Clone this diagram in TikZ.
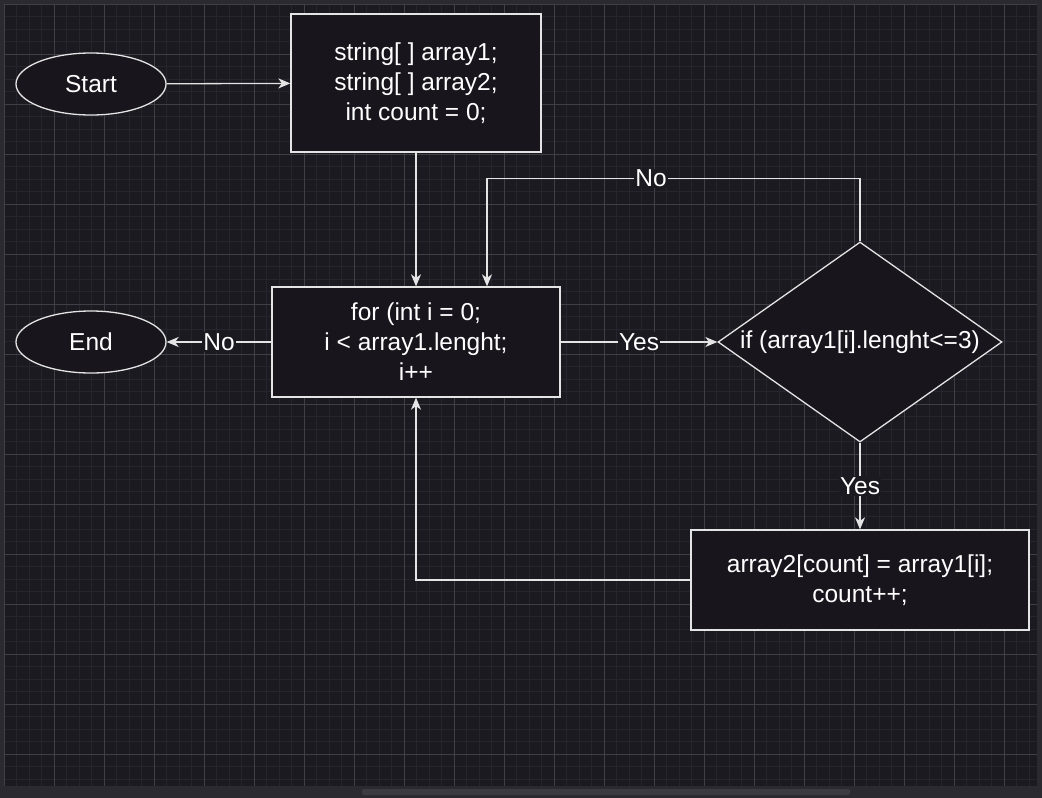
\documentclass[tikz,border=0pt]{standalone}
\usepackage{fontspec}
\setmainfont{Liberation Sans}
\usetikzlibrary{shapes,arrows.meta}
\definecolor{canvas}{RGB}{27,26,33}
\definecolor{frame}{RGB}{43,42,48}
\definecolor{thumb}{RGB}{60,59,66}
\definecolor{gridminor}{RGB}{38,37,45}
\definecolor{gridmajor}{RGB}{64,63,70}
\definecolor{boxfill}{RGB}{24,21,29}
\definecolor{edge}{RGB}{228,228,228}
\tikzset{every node/.style={font=\fontsize{24.5}{30}\selectfont,text=white},
  term/.style={ellipse,draw=edge,fill=boxfill,minimum width=150pt,minimum height=62pt,inner sep=0pt},
  proc/.style={rectangle,draw=edge,fill=boxfill,align=center,inner sep=0pt},
  test/.style={diamond,draw=edge,fill=boxfill,aspect=1.42,minimum width=284pt,minimum height=200pt,inner sep=0pt},
  flow/.style={->,draw=edge},
  lbl/.style={fill=canvas,inner sep=1pt}}

\begin{document}
\begin{tikzpicture}[x=1pt,y=-1pt,line width=1.3pt,>={Stealth[length=12pt,width=10pt,inset=3.5pt]}]
    % window and canvas
    \fill[frame] (0,0) rectangle (1042,798);
    \fill[canvas] (4,4) rectangle (1037,786);
    \fill[thumb,rounded corners=2pt] (362,789) rectangle (850,795);
    \begin{scope}[shift={(4,4)}]
        \draw[gridminor,line width=0.8pt,step=12.5pt] (0,0) grid (1033,782);
        \draw[gridmajor,line width=0.8pt,step=50pt] (0,0) grid (1033,782);
    \end{scope}

    \node[term] (start) at (91,84) {Start};
    \node[proc,minimum width=250pt,minimum height=138pt] (init) at (416,83)
        {string[ ] array1;\\string[ ] array2;\\int count = 0;};
    \node[proc,minimum width=288pt,minimum height=110pt] (loop) [below of=init,node distance=259pt]
        {for (int i = 0;\\i < array1.lenght;\\i++};
    \node[term] (stop) [below of=start,node distance=258pt] {End};
    \node[test] (cond) [right of=loop,node distance=444pt] {if (array1[i].lenght<=3)};
    \node[proc,minimum width=338pt,minimum height=100pt] (body) [below of=cond,node distance=238pt]
        {array2[count] = array1[i];\\count++;};

    \draw[flow] (start) -- (init);
    \draw[flow] (init) -- (loop);
    \draw[flow] (loop) -- node[lbl] {No} (stop);
    \draw[flow] (loop) -- node[lbl] {Yes} (cond);
    \draw[flow] (cond) -- node[lbl] {Yes} (body);
    \draw[flow] (cond.north) -- ++(0,-63) -| node[lbl,pos=0.28] {No} ([xshift=71pt]loop.north);
    \draw[flow] (body.west) -| (loop.south);
\end{tikzpicture}
\end{document}
